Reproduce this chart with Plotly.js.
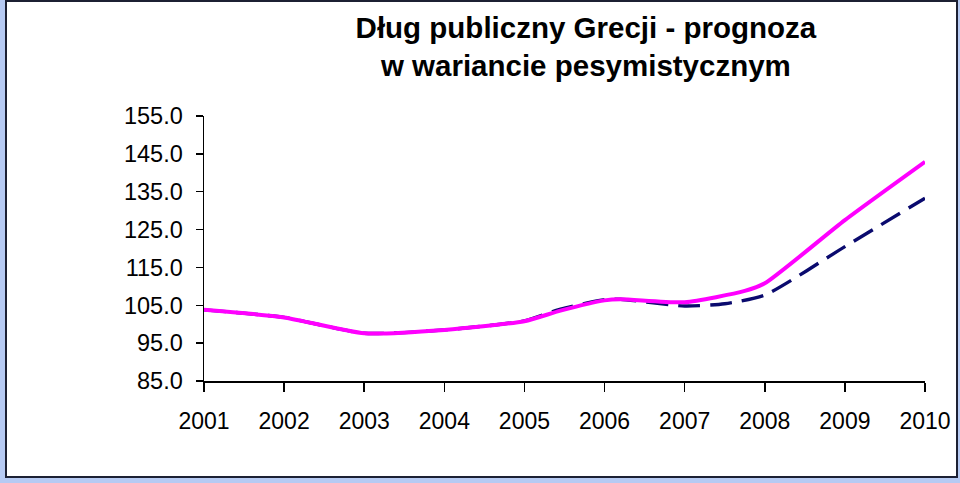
<!DOCTYPE html>
<html>
<head>
<meta charset="utf-8">
<script src="https://cdn.plot.ly/plotly-3.0.1.min.js"></script>
<style>
  html, body { margin: 0; padding: 0; background: #b6caf3; width: 960px; height: 483px; overflow: hidden; }
  #frame { position: absolute; left: 5px; top: 0px; width: 953px; height: 478px; box-sizing: border-box; border: 2px solid #1c2033; background: #ffffff; }
  #chart { width: 949px; height: 474px; }
</style>
</head>
<body>
<div id="frame"><div id="chart"></div></div>
<script>
// Pessimistic variant (pink solid line)
const pesX = [2001, 2002, 2003, 2004, 2005, 2005.45, 2006, 2006.2, 2007, 2007.75, 2008, 2009, 2010];
const pesY = [103.8, 101.8, 97.6, 98.5, 100.8, 103.6, 106.3, 106.6, 105.8, 108.8, 110.8, 127.5, 142.9];
// Base variant (navy dashed line)
const baseX = [2001, 2002, 2003, 2004, 2005, 2005.45, 2006, 2006.2, 2007, 2007.5, 2008, 2009, 2010];
const baseY = [103.8, 101.8, 97.6, 98.5, 100.9, 104.0, 106.5, 106.6, 104.8, 105.4, 107.7, 120.5, 133.3];
const years = [2001, 2002, 2003, 2004, 2005, 2006, 2007, 2008, 2009, 2010];
const yTicks = [85, 95, 105, 115, 125, 135, 145, 155];
const titleText = "Dług publiczny Grecji - prognoza<br>w wariancie pesymistycznym";

const font = "Liberation Sans, Arial, sans-serif";

const traces = [
  { x: baseX, y: baseY, type: "scatter", mode: "lines",
    line: { color: "#0a0a6e", width: 3.4, dash: "22px,10px", shape: "spline", smoothing: 0.6 },
    hoverinfo: "skip", showlegend: false },
  { x: pesX, y: pesY, type: "scatter", mode: "lines",
    line: { color: "#ff00ff", width: 4, shape: "spline", smoothing: 0.6 },
    hoverinfo: "skip", showlegend: false }
];

const layout = {
  width: 949, height: 474,
  paper_bgcolor: "#ffffff", plot_bgcolor: "#ffffff",
  margin: { l: 197, r: 31, t: 114, b: 95 },
  title: { text: titleText, font: { family: font, size: 29.5, color: "#000000", weight: "bold" },
           x: 0.61, xref: "container", xanchor: "center", y: 0.925, yref: "container", yanchor: "top" },
  font: { family: font, color: "#000000" },
  xaxis: {
    range: [2001, 2010], tickvals: years, ticktext: years.map(String),
    showgrid: false, zeroline: false, showline: true, linecolor: "#000000", linewidth: 1.5,
    ticks: "outside", ticklen: 9, tickwidth: 1.5, tickcolor: "#000000",
    tickfont: { family: font, size: 23, color: "#000000" }, ticklabelstandoff: 10
  },
  xaxis2: {
    overlaying: "x", matches: "x", range: [2001, 2010], tickvals: years, showticklabels: false,
    showgrid: false, zeroline: false, showline: false,
    ticks: "inside", ticklen: 5, tickwidth: 1.5, tickcolor: "#000000", anchor: "y"
  },
  yaxis: {
    range: [85, 155], tickvals: yTicks, ticktext: yTicks.map(v => v.toFixed(1)),
    showgrid: false, zeroline: false, showline: true, linecolor: "#000000", linewidth: 1.5,
    ticks: "outside", ticklen: 7, tickwidth: 1.5, tickcolor: "#000000",
    tickfont: { family: font, size: 23.5, color: "#000000" }, ticklabelstandoff: 8
  },
  yaxis2: {
    overlaying: "y", matches: "y", range: [85, 155], tickvals: yTicks, showticklabels: false,
    showgrid: false, zeroline: false, showline: false,
    ticks: "inside", ticklen: 7, tickwidth: 1.5, tickcolor: "#000000", anchor: "x"
  }
};

Plotly.newPlot("chart", traces, layout, { staticPlot: true, displayModeBar: false });
</script>
</body>
</html>
